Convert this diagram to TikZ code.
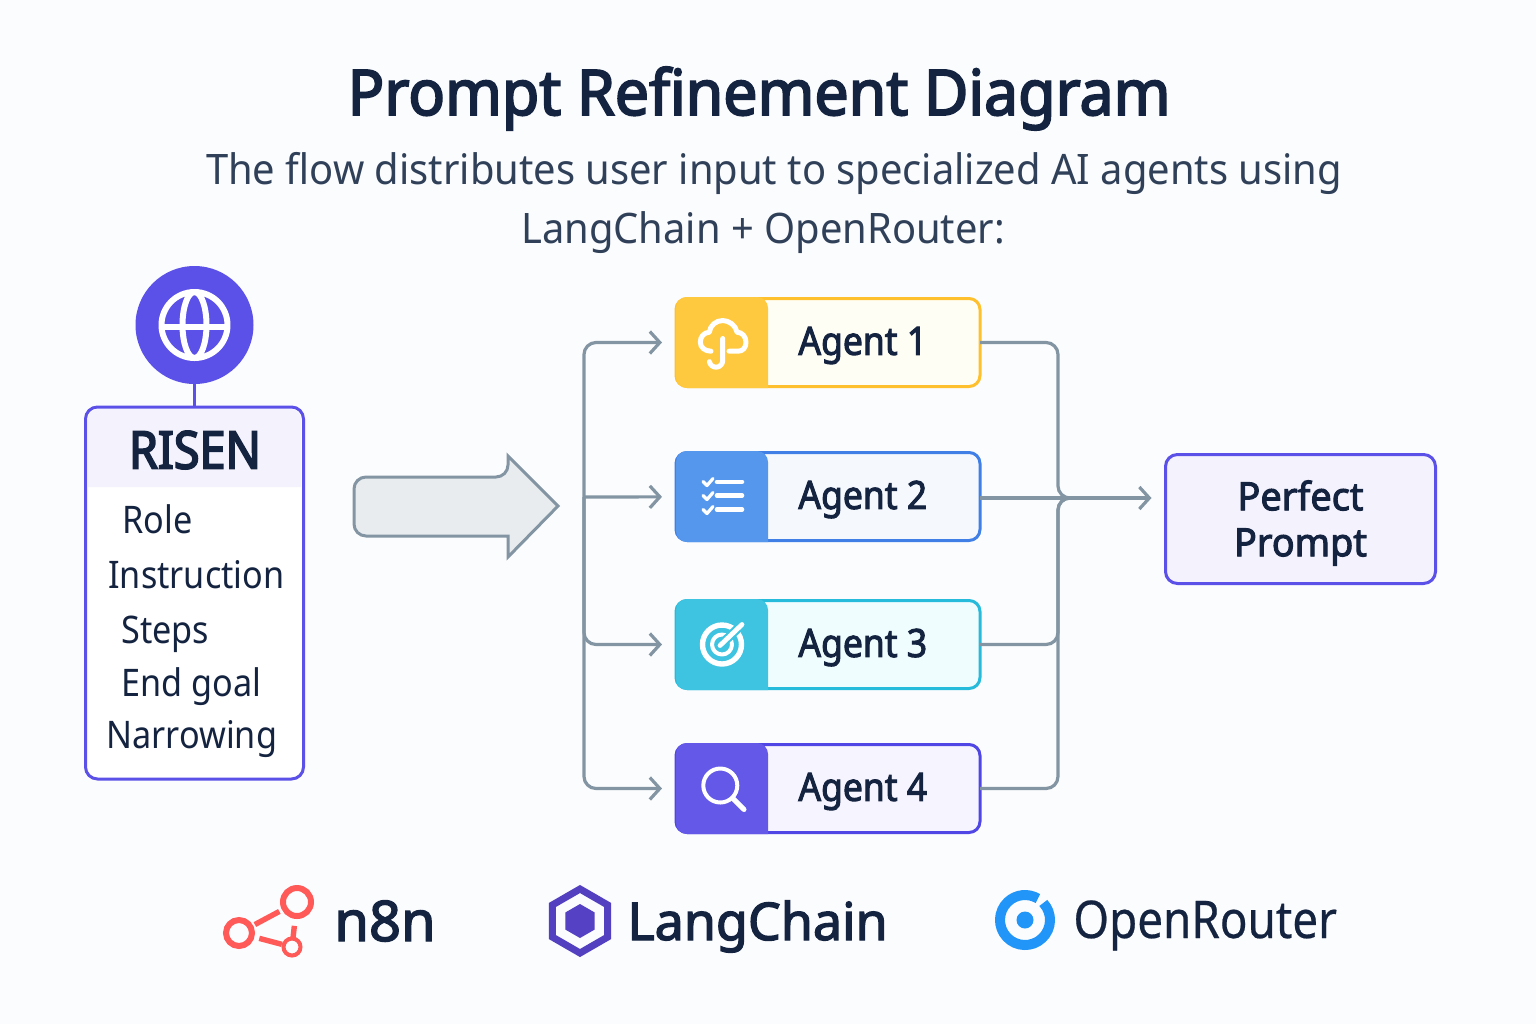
\documentclass[tikz,border=0pt]{standalone}
\usepackage{fontspec}
\setmainfont{Noto Sans}
\newfontfamily\titlefont[FakeBold=3,FakeStretch=0.965]{Noto Sans}
\newfontfamily\risenfont[FakeBold=3.5,FakeStretch=0.9]{Noto Sans}
\newfontfamily\subfont[FakeStretch=0.95]{Noto Sans}
\newfontfamily\itemfont[FakeStretch=0.9]{Noto Sans}
\newfontfamily\agentfont[FakeBold=2.5,FakeStretch=0.91]{Noto Sans}
\newfontfamily\perfectfont[FakeBold=2.5,FakeStretch=0.97]{Noto Sans}
\newfontfamily\brandfont[FakeBold=2.5]{Noto Sans}
\newfontfamily\routerfont[FakeBold=0.4,FakeStretch=0.88]{Noto Sans}
\usepackage{xcolor}
\usetikzlibrary{positioning,calc,arrows.meta,shapes.geometric}
\definecolor{pagebg}{HTML}{FBFCFE}
\definecolor{inkdark}{HTML}{14233F}
\definecolor{inksoft}{HTML}{2F4058}
\definecolor{risenviolet}{HTML}{5B50E8}
\definecolor{risenband}{HTML}{F4F2FD}
\definecolor{flowgrey}{HTML}{8395A3}
\definecolor{arrowfill}{HTML}{E9ECEF}
\definecolor{agentyellow}{HTML}{FFC93F}
\definecolor{agentyellowline}{HTML}{FFC02E}
\definecolor{agentyellowbg}{HTML}{FFFEF5}
\definecolor{agentblue}{HTML}{5597EC}
\definecolor{agentblueline}{HTML}{3F7FE6}
\definecolor{agentbluebg}{HTML}{F5F9FE}
\definecolor{agentcyan}{HTML}{3EC3E0}
\definecolor{agentcyanline}{HTML}{26BBDB}
\definecolor{agentcyanbg}{HTML}{F0FDFE}
\definecolor{agentviolet}{HTML}{6358E8}
\definecolor{agentvioletline}{HTML}{5046E5}
\definecolor{agentvioletbg}{HTML}{F6F4FE}
\definecolor{neteightn}{HTML}{FF5A57}
\definecolor{langviolet}{HTML}{5340C0}
\definecolor{routerblue}{HTML}{2196F8}

\begin{document}
\begin{tikzpicture}[x=0.5pt,y=-0.5pt,
    maintitle/.style={anchor=base,inner sep=0,text=inkdark,font=\titlefont\fontsize{31.5}{36}\selectfont},
    subtitle/.style={anchor=base,inner sep=0,text=inksoft,font=\subfont\fontsize{21}{25}\selectfont},
    risenbox/.style={draw=risenviolet,line width=1.5pt,rounded corners=6pt,fill=white,outer sep=0,
                     minimum width=109pt,minimum height=186pt},
    risenitem/.style={anchor=base west,inner sep=0,text=inkdark,font=\itemfont\fontsize{19}{23}\selectfont},
    agentbox/.style={line width=1.5pt,rounded corners=5.5pt,outer sep=0,
                     minimum width=152pt,minimum height=44pt},
    agenttag/.style={anchor=west,outer sep=0,inner sep=0,minimum width=46pt,minimum height=45.5pt},
    agentlabel/.style={right=15pt of #1,inner sep=0,yshift=-1.5pt,text=inkdark,font=\agentfont\fontsize{19.5}{23}\selectfont},
    icon/.style={draw=white,line width=2.5pt,line cap=round,line join=round},
    flow/.style={flowgrey,line width=1.6pt,rounded corners=6pt},
    flowarr/.style={flow,-{Straight Barb[length=5pt,width=11pt]},shorten >=7pt},
    brandname/.style={anchor=base west,inner sep=0,text=inkdark},
  ]
    \fill[pagebg] (0,0) rectangle (1536,1024);
    \useasboundingbox (0,0) rectangle (1536,1024);

    \node[maintitle] (title) at (759,115) {Prompt Refinement Diagram};
    \node[subtitle] (sub1) at (774,184) {The flow distributes user input to specialized AI agents using};
    \node[subtitle] (sub2) at (763,243) {LangChain + OpenRouter:};

    % RISEN column
    \node[risenbox] (risen) at (194.5,593) {};
    \node[circle,fill=risenviolet,inner sep=0,minimum size=59pt,outer sep=0] (globe) at (194.5,325) {};
    \draw[risenviolet,line width=1.6pt] (globe) -- (risen);
    \fill[risenband,rounded corners=5pt] (88,487) -- (88,409) -- (301,409) [sharp corners] -- (301,487) -- cycle;
    \node[inner sep=0,text=inkdark,font=\risenfont\fontsize{26}{30}\selectfont] (risenhead) at (195,450) {RISEN};
    \node[risenitem] (role) at (122,533) {Role};
    \node[risenitem] (instruction) at (108,588) {Instruction};
    \node[risenitem] (steps) at (121,643) {Steps};
    \node[risenitem] (endgoal) at (121,696) {End goal};
    \node[risenitem] (narrowing) at (106,748) {Narrowing};
    % globe glyph
    \draw[icon,line width=3pt] (globe) circle (33);
    \draw[icon,line width=3pt] (globe) ellipse (12 and 33);
    \draw[icon,line width=3pt,line cap=butt] (162,327) -- (227,327);

    % wide arrow
    \draw[fill=arrowfill,draw=flowgrey,line width=1.5pt,line join=miter]
      [rounded corners=6pt] (508,536) -- (354,536) -- (354,477) -- (508,477) [sharp corners]
      -- (508,456) -- (558,506) -- (508,557) -- cycle;

    % agents
    \node[agentbox,draw=agentyellowline,fill=agentyellowbg] (agent1) at (828,342.5) {};
    \node[agentbox,draw=agentblueline,fill=agentbluebg,below=33pt of agent1] (agent2) {};
    \node[agentbox,draw=agentcyanline,fill=agentcyanbg,below=30pt of agent2] (agent3) {};
    \node[agentbox,draw=agentvioletline,fill=agentvioletbg,below=28pt of agent3] (agent4) {};

    \node[agenttag] (tag1) at (agent1.west) {};
    \node[agenttag] (tag2) at (agent2.west) {};
    \node[agenttag] (tag3) at (agent3.west) {};
    \node[agenttag] (tag4) at (agent4.west) {};
    \fill[agentyellow,rounded corners=5.5pt] (tag1.south east) -- (tag1.south west) -- (tag1.north west) -- (tag1.north east) [sharp corners] -- cycle;
    \fill[agentblue,rounded corners=5.5pt] (tag2.south east) -- (tag2.south west) -- (tag2.north west) -- (tag2.north east) [sharp corners] -- cycle;
    \fill[agentcyan,rounded corners=5.5pt] (tag3.south east) -- (tag3.south west) -- (tag3.north west) -- (tag3.north east) [sharp corners] -- cycle;
    \fill[agentviolet,rounded corners=5.5pt] (tag4.south east) -- (tag4.south west) -- (tag4.north west) -- (tag4.north east) [sharp corners] -- cycle;

    \node[agentlabel=tag1.east] (label1) {Agent 1};
    \node[agentlabel=tag2.east] (label2) {Agent 2};
    \node[agentlabel=tag3.east] (label3) {Agent 3};
    \node[agentlabel=tag4.east] (label4) {Agent 4};

    % cloud icon
    \begin{scope}[shift={(tag1.center)}]
      \draw[icon] (7,8.7) -- (16,8.7) .. controls (21,8.7) and (24,5) .. (24,-0.3)
        .. controls (24,-6) and (20,-10.3) .. (15,-10.3)
        .. controls (14,-17) and (7,-22) .. (0.7,-22)
        .. controls (-6,-22) and (-12,-17) .. (-12.7,-10.3)
        .. controls (-18,-10) and (-21.7,-6) .. (-21.7,-0.3)
        .. controls (-21.7,5) and (-17,8.7) .. (-11,8.7);
      \draw[icon] (0.7,-4) -- (0.7,18) arc (0:170:6.7);
    \end{scope}
    % list icon
    \begin{scope}[shift={(tag2.center)}]
      \draw[icon,line width=2.3pt] (-5,-14.7) -- (20,-14.7) (-5,-1) -- (20,-1) (-5,13) -- (20,13);
      \draw[icon,line width=1.6pt] (-19,-15) -- (-15,-11) -- (-9,-18);
      \draw[icon,line width=1.6pt] (-19,-1) -- (-15,3) -- (-9,-4);
      \draw[icon,line width=1.6pt] (-19,13) -- (-15,17) -- (-9,10);
    \end{scope}
    % target icon
    \begin{scope}[shift={(tag3.center)}]
      \draw[icon,line cap=butt,line width=2.7pt] (0,0) circle (19.5);
      \draw[icon,line cap=butt,line width=2pt] (0,0) circle (10);
      \draw[agentcyan,line width=4.5pt] (-2,1) -- (21,-21);
      \draw[icon,line width=2.4pt] (-2,1) -- (20,-20);
    \end{scope}
    % magnifier icon
    \begin{scope}[shift={(tag4.center)}]
      \draw[icon,line width=2pt] (-1.7,-3) circle (17);
      \draw[icon] (11.3,10.3) -- (22,21);
    \end{scope}

    % output box
    \node[risenbox,minimum width=135pt,minimum height=64.5pt,fill=risenband] (perfect) at (1300.5,519) {};
    \node[inner sep=0,yshift=-2pt,align=center,text=inkdark,font=\perfectfont\fontsize{19.5}{23}\selectfont] (perfecttext) at (perfect) {Perfect\\Prompt};

    % connectors
    \coordinate (fanout) at (584,497);
    \coordinate (merge) at (1058,498);
    \coordinate (mergeout) at (1080,498);
    \coordinate (perfectin) at (perfect.west |- merge);
    \draw[flowarr] (fanout) |- (agent1);
    \draw[flowarr] (fanout) -- (agent2);
    \draw[flowarr] (fanout) |- (agent3);
    \draw[flowarr] (fanout) |- (agent4);
    \draw[flow] (agent1) -| (merge) -- (mergeout);
    \draw[flow] (agent3) -| (merge) -- (mergeout);
    \draw[flow] (agent4) -| (merge) -- (mergeout);
    \draw[flowarr] (agent2.east |- merge) -- (perfectin);

    % n8n
    \node[circle,draw=neteightn,line width=3pt,inner sep=0,minimum size=14pt,outer sep=0] (neta) at (297,902) {};
    \node[circle,draw=neteightn,line width=3pt,inner sep=0,minimum size=13pt,outer sep=0] (netb) at (239,933) {};
    \node[circle,draw=neteightn,line width=2pt,inner sep=0,minimum size=8.5pt,outer sep=0] (netc) at (292,947) {};
    \draw[neteightn,line width=2.7pt,shorten <=2.5pt,shorten >=3pt] (netb) -- (neta);
    \draw[neteightn,line width=2.7pt,shorten <=4pt,shorten >=1pt] (netb) -- (netc);
    \draw[neteightn,line width=2.7pt,shorten <=5pt] (neta) -- (netc);
    \node[brandname,font=\brandfont\fontsize{28}{32}\selectfont] (neteight) at (334,941) {n8n};

    % LangChain
    \node[regular polygon,regular polygon sides=6,shape border rotate=30,draw=langviolet,line width=3.5pt,
          inner sep=0,outer sep=0,minimum size=32pt] (langouter) at (580,921) {};
    \node[regular polygon,regular polygon sides=6,shape border rotate=30,fill=langviolet!92!risenviolet,
          inner sep=0,outer sep=0,minimum size=17pt] (langinner) at (580,921) {};
    \node[brandname,font=\brandfont\fontsize{26}{30}\selectfont] (langname) at (627,940) {LangChain};

    % OpenRouter
    \node[circle,fill=routerblue,inner sep=0,outer sep=0,minimum size=8.5pt] (routerdot) at (1025,920) {};
    \draw[routerblue,line width=5pt] ([shift={(-43:25)}]routerdot) arc (-43:301:25);
    \node[brandname,font=\routerfont\fontsize{26}{30}\selectfont] (routername) at (1073,938) {OpenRouter};
  \end{tikzpicture}
\end{document}
